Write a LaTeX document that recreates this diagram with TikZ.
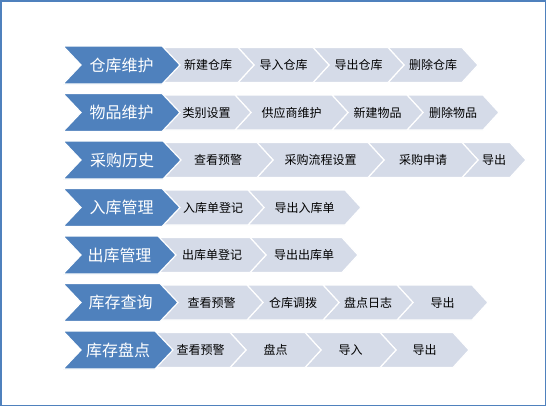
\documentclass[tikz,border=0pt]{standalone}
\usepackage{fontspec}
\newfontfamily\cjk{Noto Sans CJK SC}
\definecolor{mainblue}{RGB}{79,129,189}
\definecolor{lightseg}{RGB}{213,219,232}
\definecolor{frameblue}{RGB}{79,129,189}
\tikzset{
  bluechev/.style={fill=mainblue,draw=white,line width=1.2pt,line join=miter},
  lightchev/.style={fill=lightseg,draw=white,line width=1.2pt,line join=miter},
  bluelabel/.style={text=white,font=\cjk\fontsize{16}{19}\selectfont,inner sep=0pt},
  lightlabel/.style={text=black,font=\cjk\fontsize{12}{14}\selectfont,inner sep=0pt},
}
% #1 x0, #2 top, #3 width, #4 height, #5 depth, #6 style
\newcommand\chevpath[6]{%
  \path[#6] ({#1},{#2}) -- ++({#3},0) -- ++({#5},{(#4)/2}) -- ++({-(#5)},{(#4)/2}) -- ++({-(#3)},0) -- ++({#5},{-(#4)/2}) -- cycle;}
% light segment: #1 name, #2 x0, #3 x1, #4 blue top, #5 text
\newcommand\lseg[5]{%
  \chevpath{#2}{#4+1.5}{#3-#2}{35}{16}{lightchev}
  \node[lightlabel] (#1) at ({(#2+#3+16)/2},{#4+19}) {#5};}
% blue label: #1 name, #2 right x, #3 top, #4 text
\newcommand\bseg[4]{%
  \chevpath{63}{#3}{#2-63}{38}{18}{bluechev}
  \node[bluelabel] (#1) at ({(63+#2+18)/2},{#3+19}) {#4};}
\begin{document}
\begin{tikzpicture}[x=1pt,y=-1pt]
\useasboundingbox (0,0) rectangle (547,407);
\fill[white] (0,0) rectangle (547,407);
\draw[frameblue,line width=1.5pt] (0.75,0.75) rectangle (545.5,405.5);
% row 1
\lseg{a4}{388}{462}{46}{删除仓库}
\lseg{a3}{313}{388}{46}{导出仓库}
\lseg{a2}{238}{313}{46}{导入仓库}
\lseg{a1}{162}{238}{46}{新建仓库}
\bseg{A}{162}{46}{仓库维护}
% row 2
\lseg{b4}{407}{483}{93.5}{删除物品}
\lseg{b3}{332}{407}{93.5}{新建物品}
\lseg{b2}{235}{332}{93.5}{供应商维护}
\lseg{b1}{162}{235}{93.5}{类别设置}
\bseg{B}{162}{93.5}{物品维护}
% row 3
\lseg{c4}{462}{510}{141}{导出}
\lseg{c3}{368}{462}{141}{采购申请}
\lseg{c2}{257}{368}{141}{采购流程设置}
\lseg{c1}{163}{257}{141}{查看预警}
\bseg{C}{163}{141}{采购历史}
% row 4
\lseg{d2}{248}{345}{188.5}{导出入库单}
\lseg{d1}{162}{248}{188.5}{入库单登记}
\bseg{D}{162}{188.5}{入库管理}
% row 5
\lseg{e2}{250}{342}{236}{导出出库单}
\lseg{e1}{158}{250}{236}{出库单登记}
\bseg{E}{158}{236}{出库管理}
% row 6
\lseg{f4}{397}{472}{283.5}{导出}
\lseg{f3}{323}{397}{283.5}{盘点日志}
\lseg{f2}{247}{323}{283.5}{仓库调拨}
\lseg{f1}{160}{247}{283.5}{查看预警}
\bseg{F}{160}{283.5}{库存查询}
% row 7
\lseg{g4}{380}{453}{331}{导出}
\lseg{g3}{305}{380}{331}{导入}
\lseg{g2}{230}{305}{331}{盘点}
\lseg{g1}{155}{230}{331}{查看预警}
\bseg{G}{155}{331}{库存盘点}
\end{tikzpicture}
\end{document}
